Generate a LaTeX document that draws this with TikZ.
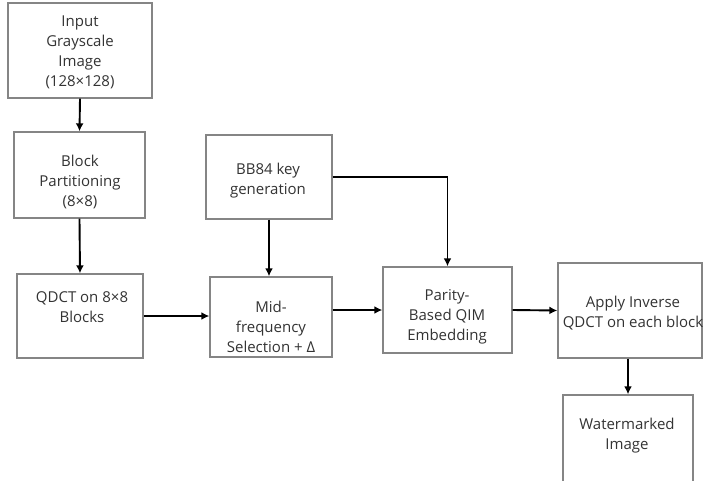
\documentclass[tikz,border=0pt]{standalone}
\usepackage{fontspec}
\setmainfont{Open Sans}
\usetikzlibrary{arrows.meta}
\definecolor{boxgray}{HTML}{858585}
\definecolor{txtgray}{HTML}{333333}
\tikzset{
  box/.style={draw=boxgray, line width=1.4pt, rectangle, inner sep=0pt},
  lbl/.style={text=txtgray, align=center, font=\fontsize{15}{20}\selectfont, inner sep=0pt},
  conn/.style={line width=1.9pt, -{Latex[length=8pt,width=8pt]}},
}
\begin{document}
\begin{tikzpicture}[x=1pt,y=-1pt]
\useasboundingbox (0,0) rectangle (705,480);
% boxes
\node[box, minimum width=144pt, minimum height=95pt] (b1) at (80,50.5) {};
\node[box, minimum width=131pt, minimum height=86pt] (b2) at (79.5,175) {};
\node[box, minimum width=126pt, minimum height=84pt] (b3) at (80,316) {};
\node[box, minimum width=126pt, minimum height=84pt] (b4) at (269,177) {};
\node[box, minimum width=122pt, minimum height=80pt] (b5) at (271,317) {};
\node[box, minimum width=129pt, minimum height=86pt] (b6) at (447.5,310) {};
\node[box, minimum width=144pt, minimum height=95pt] (b7) at (630,310.5) {};
\node[box, minimum width=130pt, minimum height=92pt] (b8) at (628,441) {};
% texts
\node[lbl] (t1) at (80,52) {Input\\Grayscale\\Image\\(128×128)};
\node[lbl] (t2) at (80,182) {Block\\Partitioning\\(8×8)};
\node[lbl] (t3) at (82,307) {QDCT on 8×8\\Blocks};
\node[lbl] (t4) at (268,181) {BB84 key\\generation};
\node[lbl] (t5) at (271,327) {Mid-\\frequency\\Selection + Δ};
\node[lbl] (t6) at (447,317) {Parity-\\Based QIM\\Embedding};
\node[lbl] (t7) at (633,313) {Apply Inverse\\QDCT on each block};
\node[lbl] (t8) at (627,435.5) {Watermarked\\Image};
% connectors
\draw[conn] (b1.south) -- (b2.north);
\draw[conn] (b2.south) -- (b3.north);
\draw[conn] (b3.east) -- (b3.east -| b5.west);
\draw[conn] (b4.south) -- (b4.south |- b5.north);
\draw[conn] (b4.east) -| (b6.north);
\draw[conn] (b5.east |- b6.west) -- (b6.west);
\draw[conn] (b6.east) -- (b7.west);
\draw[conn] (b8.north |- b7.south) -- (b8.north);
\end{tikzpicture}
\end{document}
